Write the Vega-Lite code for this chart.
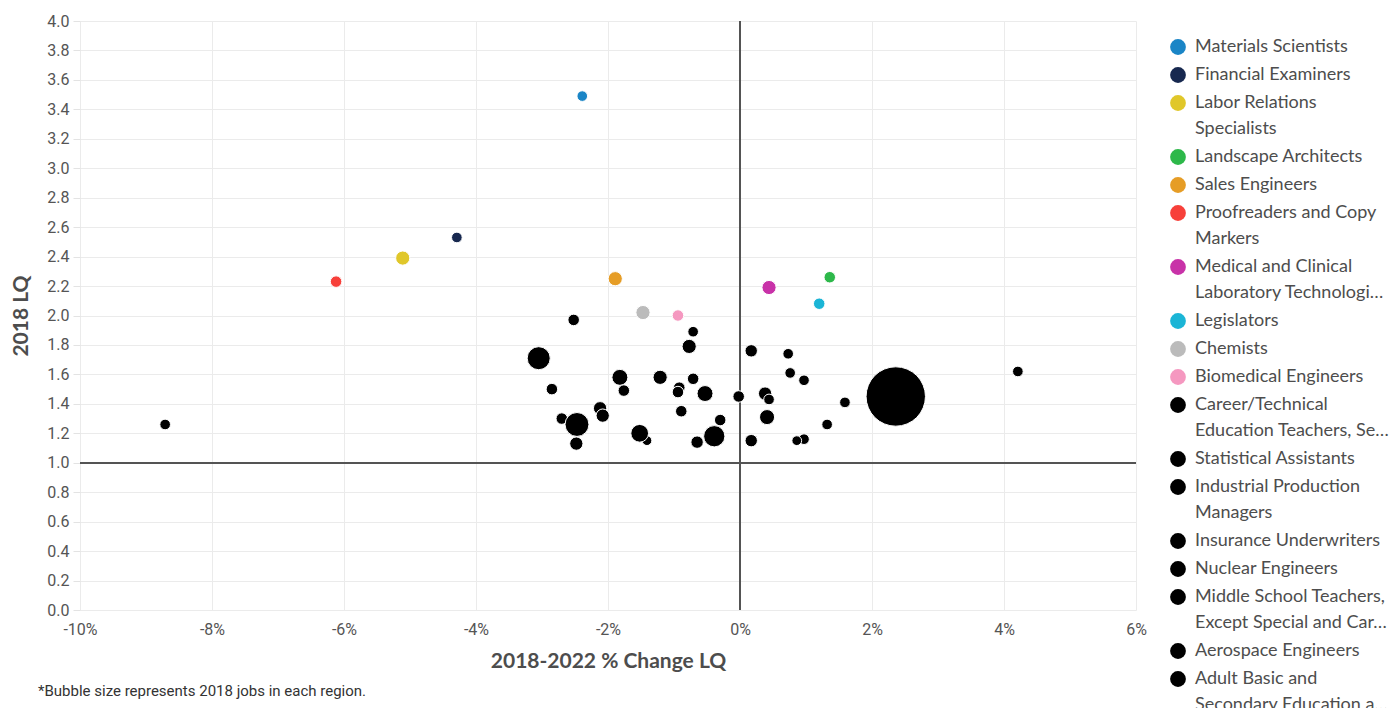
{
  "$schema": "https://vega.github.io/schema/vega-lite/v6.json",
  "width": 1056,
  "height": 589,
  "autosize": {"type": "none"},
  "padding": {"left": 80, "top": 21, "right": 255, "bottom": 98},
  "background": "white",
  "config": {"view": {"stroke": null}, "style": {"guide-label": {"lineHeight": 26}}},
  "title": {
    "text": "*Bubble size represents 2018 jobs in each region.",
    "orient": "top",
    "anchor": "start",
    "frame": "group",
    "baseline": "middle",
    "font": "Roboto",
    "fontSize": 15,
    "fontWeight": "normal",
    "color": "#333333",
    "dx": -42,
    "offset": -693
  },
  "data": {
    "values": [
      {"name": "Materials Scientists", "change": -2.39, "lq": 3.49, "jobs": 1440},
      {"name": "Financial Examiners", "change": -4.29, "lq": 2.53, "jobs": 1440},
      {"name": "Labor Relations Specialists", "change": -5.11, "lq": 2.39, "jobs": 2560},
      {"name": "Landscape Architects", "change": 1.36, "lq": 2.26, "jobs": 1690},
      {"name": "Sales Engineers", "change": -1.89, "lq": 2.25, "jobs": 2560},
      {"name": "Proofreaders and Copy Markers", "change": -6.12, "lq": 2.23, "jobs": 1690},
      {"name": "Medical and Clinical Laboratory Technologists", "change": 0.44, "lq": 2.19, "jobs": 2560},
      {"name": "Legislators", "change": 1.2, "lq": 2.08, "jobs": 1690},
      {"name": "Chemists", "change": -1.47, "lq": 2.02, "jobs": 2560},
      {"name": "Biomedical Engineers", "change": -0.94, "lq": 2.0, "jobs": 1690},
      {"name": "Career/Technical Education Teachers, Secondary School", "change": -2.52, "lq": 1.97, "jobs": 1690},
      {"name": "Statistical Assistants", "change": -0.71, "lq": 1.89, "jobs": 1440},
      {"name": "Industrial Production Managers", "change": -0.77, "lq": 1.79, "jobs": 2560},
      {"name": "Insurance Underwriters", "change": 0.17, "lq": 1.76, "jobs": 1960},
      {"name": "Nuclear Engineers", "change": 0.73, "lq": 1.74, "jobs": 1440},
      {"name": "Middle School Teachers, Except Special and Career/Technical Education", "change": -3.05, "lq": 1.71, "jobs": 6760},
      {"name": "Aerospace Engineers", "change": 4.21, "lq": 1.62, "jobs": 1440},
      {"name": "Adult Basic and Secondary Education and Literacy Teachers and Instructors", "change": 0.76, "lq": 1.61, "jobs": 1440},
      {"name": "Other occupation 19", "change": -1.82, "lq": 1.58, "jobs": 3240},
      {"name": "Other occupation 20", "change": -1.21, "lq": 1.58, "jobs": 2560},
      {"name": "Other occupation 21", "change": -0.71, "lq": 1.57, "jobs": 1690},
      {"name": "Other occupation 22", "change": 0.97, "lq": 1.56, "jobs": 1440},
      {"name": "Other occupation 23", "change": -0.92, "lq": 1.51, "jobs": 1690},
      {"name": "Other occupation 24", "change": -2.85, "lq": 1.5, "jobs": 1690},
      {"name": "Other occupation 25", "change": -1.76, "lq": 1.49, "jobs": 1690},
      {"name": "Other occupation 26", "change": -0.94, "lq": 1.48, "jobs": 1690},
      {"name": "Other occupation 27", "change": -0.53, "lq": 1.47, "jobs": 3240},
      {"name": "Other occupation 28", "change": 0.38, "lq": 1.47, "jobs": 2250},
      {"name": "Other occupation 29", "change": -0.02, "lq": 1.45, "jobs": 1690},
      {"name": "Other occupation 30", "change": 2.36, "lq": 1.45, "jobs": 44890},
      {"name": "Other occupation 31", "change": 0.44, "lq": 1.43, "jobs": 1440},
      {"name": "Other occupation 32", "change": 1.59, "lq": 1.41, "jobs": 1440},
      {"name": "Other occupation 33", "change": -2.12, "lq": 1.37, "jobs": 2250},
      {"name": "Other occupation 34", "change": -0.89, "lq": 1.35, "jobs": 1690},
      {"name": "Other occupation 35", "change": -2.08, "lq": 1.32, "jobs": 2250},
      {"name": "Other occupation 36", "change": 0.41, "lq": 1.31, "jobs": 2890},
      {"name": "Other occupation 37", "change": -2.7, "lq": 1.3, "jobs": 1690},
      {"name": "Other occupation 38", "change": -0.3, "lq": 1.29, "jobs": 1690},
      {"name": "Other occupation 39", "change": -2.47, "lq": 1.26, "jobs": 7290},
      {"name": "Other occupation 40", "change": 1.32, "lq": 1.26, "jobs": 1440},
      {"name": "Other occupation 41", "change": -8.71, "lq": 1.26, "jobs": 1440},
      {"name": "Other occupation 42", "change": -1.41, "lq": 1.15, "jobs": 1210},
      {"name": "Other occupation 43", "change": -1.52, "lq": 1.2, "jobs": 4000},
      {"name": "Other occupation 44", "change": -0.39, "lq": 1.18, "jobs": 5760},
      {"name": "Other occupation 45", "change": 0.97, "lq": 1.16, "jobs": 1440},
      {"name": "Other occupation 46", "change": 0.86, "lq": 1.15, "jobs": 1210},
      {"name": "Other occupation 47", "change": 0.17, "lq": 1.15, "jobs": 1960},
      {"name": "Other occupation 48", "change": -0.65, "lq": 1.14, "jobs": 1960},
      {"name": "Other occupation 49", "change": -2.48, "lq": 1.13, "jobs": 2250}
    ]
  },
  "encoding": {
    "x": {
      "field": "change",
      "type": "quantitative",
      "scale": {"domain": [-10, 6], "nice": false, "zero": false},
      "axis": {
        "values": [-10, -8, -6, -4, -2, 0, 2, 4, 6],
        "labelExpr": "datum.value + '%'",
        "title": "2018-2022 % Change LQ",
        "grid": true,
        "gridColor": "#ebebeb",
        "domain": false,
        "ticks": false,
        "labelFlush": false,
        "labelFont": "Roboto",
        "labelFontSize": 16,
        "labelColor": "#555555",
        "labelPadding": 11,
        "titleFont": "Lato",
        "titleFontSize": 21,
        "titleFontWeight": "bold",
        "titleColor": "#4d4d4d",
        "titlePadding": 13
      }
    },
    "y": {
      "field": "lq",
      "type": "quantitative",
      "scale": {"domain": [0, 4], "nice": false},
      "axis": {
        "values": [0, 0.2, 0.4, 0.6, 0.8, 1.0, 1.2, 1.4, 1.6, 1.8, 2.0, 2.2, 2.4, 2.6, 2.8, 3.0, 3.2, 3.4, 3.6, 3.8, 4.0],
        "format": ".1f",
        "title": "2018 LQ",
        "grid": true,
        "gridColor": "#ebebeb",
        "domain": false,
        "ticks": true,
        "tickColor": "#e3e3e3",
        "tickSize": 7,
        "labelFlush": false,
        "labelFont": "Roboto",
        "labelFontSize": 16,
        "labelColor": "#555555",
        "labelPadding": 4,
        "titleFont": "Lato",
        "titleFontSize": 21,
        "titleFontWeight": "bold",
        "titleColor": "#4d4d4d",
        "titlePadding": 15
      }
    }
  },
  "layer": [
    {
      "mark": {"type": "rule", "color": "#555555", "strokeWidth": 1},
      "encoding": {"x": {"datum": 0, "type": "quantitative"}, "y": null}
    },
    {
      "mark": {"type": "rule", "color": "#555555", "strokeWidth": 1},
      "encoding": {"y": {"datum": 1, "type": "quantitative"}, "x": null}
    },
    {
      "transform": [
        {"filter": {"not": {"field": "name", "oneOf": [
          "Materials Scientists", "Financial Examiners", "Labor Relations Specialists", "Landscape Architects", "Sales Engineers", "Proofreaders and Copy Markers", "Medical and Clinical Laboratory Technologists", "Legislators", "Chemists", "Biomedical Engineers", "Career/Technical Education Teachers, Secondary School", "Statistical Assistants", "Industrial Production Managers", "Insurance Underwriters", "Nuclear Engineers", "Middle School Teachers, Except Special and Career/Technical Education", "Aerospace Engineers", "Adult Basic and Secondary Education and Literacy Teachers and Instructors"
        ]}}}
      ],
      "mark": {"type": "circle", "opacity": 1, "color": "#000000", "stroke": "white", "strokeWidth": 1},
      "encoding": {
        "size": {"field": "jobs", "type": "quantitative", "scale": {"type": "linear", "domain": [0, 45000], "range": [0, 3534]}, "legend": null}
      }
    },
    {
      "transform": [
        {"filter": {"field": "name", "oneOf": [
          "Materials Scientists", "Financial Examiners", "Labor Relations Specialists", "Landscape Architects", "Sales Engineers", "Proofreaders and Copy Markers", "Medical and Clinical Laboratory Technologists", "Legislators", "Chemists", "Biomedical Engineers", "Career/Technical Education Teachers, Secondary School", "Statistical Assistants", "Industrial Production Managers", "Insurance Underwriters", "Nuclear Engineers", "Middle School Teachers, Except Special and Career/Technical Education", "Aerospace Engineers", "Adult Basic and Secondary Education and Literacy Teachers and Instructors"
        ]}}
      ],
      "mark": {"type": "circle", "opacity": 1, "stroke": "white", "strokeWidth": 1},
      "encoding": {
        "size": {"field": "jobs", "type": "quantitative", "scale": {"type": "linear", "domain": [0, 45000], "range": [0, 3534]}, "legend": null},
        "color": {
          "field": "name",
          "type": "nominal",
          "scale": {
            "domain": [
              "Materials Scientists", "Financial Examiners", "Labor Relations Specialists", "Landscape Architects", "Sales Engineers", "Proofreaders and Copy Markers", "Medical and Clinical Laboratory Technologists", "Legislators", "Chemists", "Biomedical Engineers", "Career/Technical Education Teachers, Secondary School", "Statistical Assistants", "Industrial Production Managers", "Insurance Underwriters", "Nuclear Engineers", "Middle School Teachers, Except Special and Career/Technical Education", "Aerospace Engineers", "Adult Basic and Secondary Education and Literacy Teachers and Instructors"
            ],
            "range": ["#1a85c6", "#17284f", "#e0c72a", "#2db84a", "#e69d26", "#f7403a", "#c832a8", "#1bb5d6", "#bbbbbb", "#f598c0", "#000000", "#000000", "#000000", "#000000", "#000000", "#000000", "#000000", "#000000"]
          },
          "legend": {
            "orient": "none",
            "legendX": 1089,
            "legendY": 17,
            "title": null,
            "padding": 0,
            "symbolType": "circle",
            "symbolSize": 250,
            "symbolStrokeWidth": 0,
            "labelFont": "Lato",
            "labelFontSize": 18,
            "labelColor": "#4d4d4d",
            "labelBaseline": "middle",
            "labelOffset": 8,
            "labelLimit": 0,
            "rowPadding": 10,
            "labelExpr": "datum.label == 'Labor Relations Specialists' ? ['Labor Relations', 'Specialists'] : datum.label == 'Proofreaders and Copy Markers' ? ['Proofreaders and Copy', 'Markers'] : datum.label == 'Medical and Clinical Laboratory Technologists' ? ['Medical and Clinical', 'Laboratory Technologi…'] : datum.label == 'Career/Technical Education Teachers, Secondary School' ? ['Career/Technical', 'Education Teachers, Se…'] : datum.label == 'Industrial Production Managers' ? ['Industrial Production', 'Managers'] : datum.label == 'Middle School Teachers, Except Special and Career/Technical Education' ? ['Middle School Teachers,', 'Except Special and Car…'] : datum.label == 'Adult Basic and Secondary Education and Literacy Teachers and Instructors' ? ['Adult Basic and', 'Secondary Education a…'] : datum.label"
          }
        }
      }
    }
  ]
}
